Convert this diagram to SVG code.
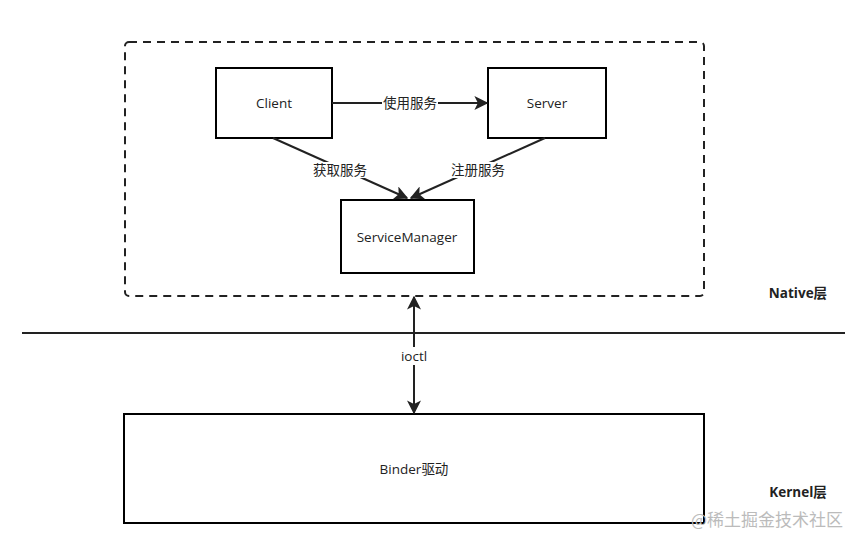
<svg xmlns="http://www.w3.org/2000/svg" width="866" height="546" viewBox="0 0 866 546">
<style>
.box{fill:#fff;stroke:#000;stroke-width:2}
.t{font-family:"Open Sans","Noto Sans CJK SC",sans-serif;font-size:13.5px;fill:#222;text-anchor:middle;dominant-baseline:central}
.b{font-family:"Open Sans","Noto Sans CJK SC",sans-serif;font-size:13.5px;font-weight:bold;fill:#222;text-anchor:middle;dominant-baseline:central}
.ln{stroke:#222;stroke-width:2;fill:none}
.lbl{fill:#fff}
</style>
<defs>
<marker id="ah" viewBox="0 0 10 10" refX="9" refY="5" markerWidth="7" markerHeight="7" orient="auto-start-reverse" markerUnits="strokeWidth">
<path d="M0,0 L10,5 L0,10 L2.5,5 Z" fill="#222"/>
</marker>
</defs>
<rect width="866" height="546" fill="#fff"/>
<g id="native-layer">
<rect x="125" y="42" width="579" height="254" rx="4" fill="none" stroke="#222" stroke-width="2" stroke-dasharray="8 6"/>
</g>
<g id="client"><rect class="box" x="216" y="68" width="116" height="70"/><text class="t" x="274" y="103">Client</text></g>
<g id="server"><rect class="box" x="488" y="68" width="118" height="70"/><text class="t" x="547" y="103">Server</text></g>
<g id="servicemanager"><rect class="box" x="341" y="200" width="133" height="73"/><text class="t" x="407" y="237">ServiceManager</text></g>
<g id="binder"><rect class="box" x="124" y="414" width="580" height="109"/><text class="t" x="414" y="469">Binder驱动</text></g>
<g id="connectors">
<line class="ln" x1="22" y1="333" x2="845" y2="333"/>
<line class="ln" x1="332" y1="103" x2="487" y2="103" marker-end="url(#ah)"/>
<line class="ln" x1="273" y1="138" x2="407" y2="198" marker-end="url(#ah)"/>
<line class="ln" x1="545" y1="138" x2="411" y2="198" marker-end="url(#ah)"/>
<line class="ln" x1="414" y1="297" x2="414" y2="413" marker-start="url(#ah)" marker-end="url(#ah)"/>
<rect class="lbl" x="382" y="95" width="56" height="16"/>
<text class="t" x="410" y="103">使用服务</text>
<rect class="lbl" x="311" y="162" width="58" height="16"/>
<text class="t" x="340" y="170">获取服务</text>
<rect class="lbl" x="449" y="162" width="58" height="16"/>
<text class="t" x="478" y="170">注册服务</text>
<rect class="lbl" x="399" y="347" width="30" height="18"/>
<text class="t" x="414" y="356">ioctl</text>
</g>
<text class="b" x="798" y="293">Native层</text>
<text class="b" x="798" y="492">Kernel层</text>
<text x="767" y="518" font-family="'Noto Sans CJK SC',sans-serif" font-size="17" fill="#bbb" text-anchor="middle" dominant-baseline="central">@稀土掘金技术社区</text>
</svg>
